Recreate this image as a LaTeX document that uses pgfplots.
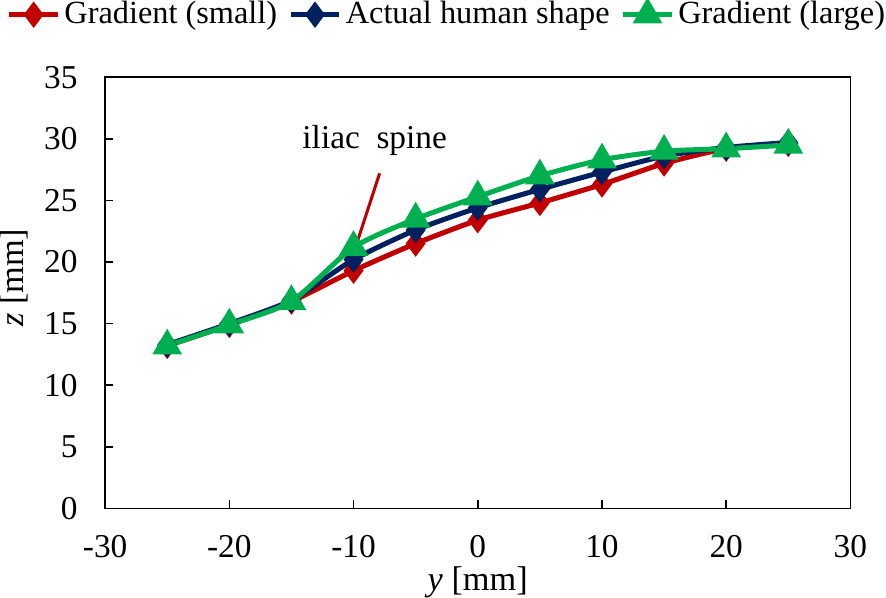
\documentclass[border=0pt]{standalone}
\usepackage{fontspec}
\setmainfont{Liberation Serif}
\usepackage{pgfplots}
\pgfplotsset{compat=1.18}
\definecolor{cred}{RGB}{192,0,0}
\definecolor{cblue}{RGB}{0,32,96}
\definecolor{cgreen}{RGB}{0,176,80}
\begin{document}
\fontsize{16.5bp}{19bp}\selectfont
\begin{tikzpicture}
\begin{axis}[
  scale only axis,
  width=369bp, height=213.5bp,
  xmin=-30, xmax=30, ymin=0, ymax=35,
  xtick={-30,-20,...,30}, ytick={0,5,...,35},
  tick align=inside, xtick pos=bottom, ytick pos=left,
  major tick length=4bp,
  axis line style={line width=0.8bp},
  tick style={line width=0.8bp, black},
  /pgf/number format/assume math mode=true,
  tick label style={font=\fontsize{16.5bp}{19bp}\selectfont},
  xticklabel style={yshift=-7.5bp},
  yticklabel style={xshift=-8bp},
  xlabel={\textit{y} [mm]}, ylabel={\textit{z} [mm]},
  label style={font=\fontsize{17bp}{19bp}\selectfont, inner sep=0pt},
  xlabel style={at={(axis description cs:0.5,0)}, anchor=center, yshift=-36.5bp},
  ylabel style={at={(axis description cs:-0.122,0.535)}, anchor=center},
  legend columns=3,
  legend style={draw=none, fill=none, at={(0.458,1.145)}, anchor=center,
    font=\fontsize{16bp}{18bp}\selectfont, inner xsep=0pt, inner ysep=0pt,
    nodes={inner xsep=0.5bp, inner ysep=0.5bp},
    /tikz/every odd column/.append style={column sep=1.5bp},
    /tikz/every even column/.append style={column sep=5bp}},
  legend cell align=left,
  legend image code/.code={\draw[mark repeat=2,mark phase=2,#1] plot coordinates {(0bp,0bp) (12bp,0bp) (24bp,0bp)};},
]
\addplot[color=cred, line width=2.5bp, smooth, tension=0.4, mark=diamond*, mark size=4.5bp, mark options={solid, fill=cred}]
  coordinates {(-25,13.2) (-20,14.9) (-15,16.8) (-10,19.3) (-5,21.5) (0,23.4) (5,24.8) (10,26.3) (15,28.0) (20,29.2) (25,29.6)};
\addlegendentry{Gradient (small)}
\addplot[color=cblue, line width=2.5bp, smooth, tension=0.4, mark=diamond*, mark size=4.5bp, mark options={solid, fill=cblue}]
  coordinates {(-25,13.3) (-20,15.0) (-15,16.9) (-10,20.2) (-5,22.6) (0,24.4) (5,25.9) (10,27.3) (15,28.6) (20,29.3) (25,29.7)};
\addlegendentry{Actual human shape}
\addplot[color=cgreen, line width=2.5bp, smooth, tension=0.4, mark=triangle*, mark size=6bp, mark options={solid, fill=cgreen}]
  coordinates {(-25,13.2) (-20,14.9) (-15,16.8) (-10,21.2) (-5,23.5) (0,25.3) (5,27.0) (10,28.3) (15,29.0) (20,29.2) (25,29.5)};
\addlegendentry{Gradient (large)}
\draw[cred, line width=1.5bp] (axis cs:-7.9,27.2) -- (axis cs:-10.2,20.1);
\node[font=\fontsize{16.5bp}{19bp}\selectfont] at (axis cs:-8.3,29.9) {iliac\ \ spine};
\end{axis}
\end{tikzpicture}
\end{document}
